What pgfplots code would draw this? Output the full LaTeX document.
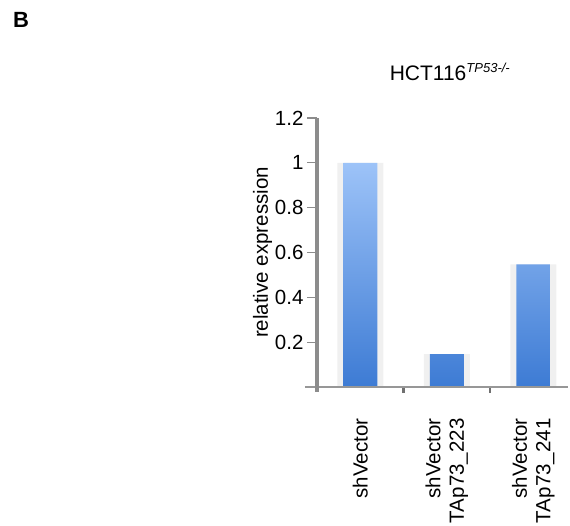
\documentclass[border=0pt]{standalone}
\usepackage{pgfplots}
\pgfplotsset{compat=1.18}
\usepackage{fontspec}
\setmainfont{Liberation Sans}
\definecolor{bartop}{HTML}{9DC3F8}
\definecolor{barbot}{HTML}{3D7BD4}
\definecolor{axgray}{HTML}{8C8C8C}
\begin{document}
\begin{tikzpicture}
\path[use as bounding box] (0pt,0pt) rectangle (570pt,525pt);
\node[anchor=north west, inner sep=0pt, font=\fontsize{22}{26}\selectfont\bfseries] at (13pt,513pt) {B};
\begin{axis}[
  at={(317pt,138pt)}, anchor=south west,
  scale only axis, width=251pt, height=269pt,
  xmin=-0.5, xmax=2.4, ymin=0, ymax=1.2,
  clip=false,
  axis line style={draw=none},
  ytick={0.2,0.4,0.6,0.8,1,1.2},
  yticklabels={0.2,0.4,0.6,0.8,1,1.2},
  xtick={0,1,2},
  xticklabels={shVector,{shVector\\TAp73\_223},{shVector\\TAp73\_241}},
  minor xtick={0.5,1.5},
  major x tick style={draw=none},
  minor x tick style={draw=axgray!80!black, line width=2.5pt},
  minor tick length=6pt,
  y tick style={draw=axgray, line width=1.2pt},
  major tick length=10pt,
  tick align=outside,
  xtick pos=bottom, ytick pos=left,
  tick label style={font=\fontsize{20.5}{23.5}\selectfont},
  x tick label style={rotate=90, anchor=east, align=right, xshift=-18pt},
  ylabel={relative expression},
  ylabel style={font=\fontsize{20.5}{24}\selectfont, yshift=-4pt},
  title={HCT116\textsuperscript{\itshape\fontsize{13}{15}\selectfont TP53-/-}},
  title style={font=\fontsize{21}{25}\selectfont, at={(0.53,1)}, anchor=south, yshift=28pt},
]
\addplot[ybar, bar width=46pt, bar shift=0pt, fill=black!6, draw=none] coordinates {(0,1.0) (1,0.147) (2,0.547)};
\addplot[ybar, bar width=34pt, bar shift=0pt, top color=bartop, bottom color=barbot, draw=none] coordinates {(0,1.0) (1,0.147) (2,0.547)};
\draw[axgray!90, line width=2pt] (axis cs:-0.64,0) -- (axis cs:2.4,0);
\draw[axgray, line width=3.5pt] (axis cs:-0.5,-0.022) -- (axis cs:-0.5,1.2);
\end{axis}
\end{tikzpicture}
\end{document}
